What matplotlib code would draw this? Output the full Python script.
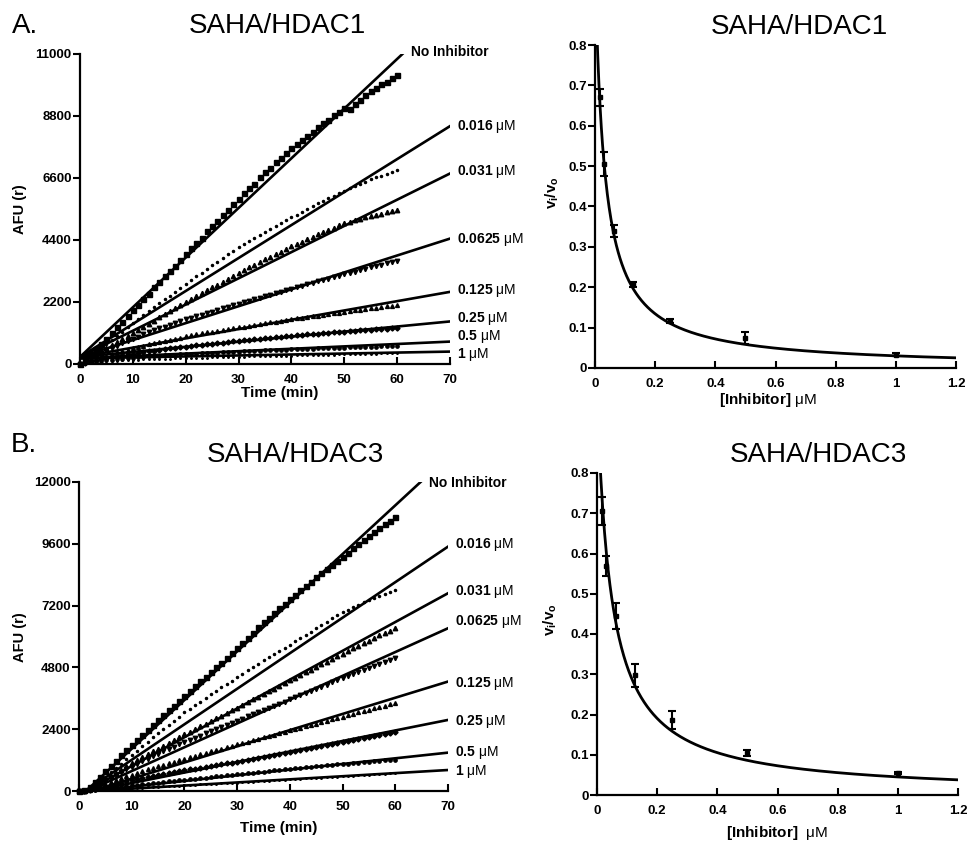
import matplotlib
matplotlib.use("Agg")
import matplotlib.pyplot as plt
import numpy as np

# ==========================================================
# Style
# ==========================================================

plt.rcParams["font.family"] = ["Liberation Sans", "DejaVu Sans"]
plt.rcParams["font.weight"] = "bold"
plt.rcParams["mathtext.fontset"] = "custom"
plt.rcParams["mathtext.rm"] = "Liberation Sans"
plt.rcParams["mathtext.bf"] = "Liberation Sans:bold"
plt.rcParams["mathtext.it"] = "Liberation Sans:italic"

W, H = 968, 843

# ==========================================================
# Data
# ==========================================================

time_min = np.arange(61)
conc_labels = ["No Inhibitor", "0.016", "0.031", "0.0625", "0.125", "0.25", "0.5", "1"]

# HDAC1 progress curves (AFU), one value per minute
hdac1_curves = [
    [0, 160, 340, 520, 710, 900, 1100, 1300, 1500, 1700, 1900, 2100, 2290, 2500, 2720, 2900,
     3110, 3300, 3480, 3700, 3900, 4120, 4300, 4480, 4710, 4900, 5080, 5290, 5460, 5670, 5850,
     6060, 6230, 6400, 6620, 6800, 6960, 7150, 7300, 7490, 7650, 7790, 7960, 8100, 8240, 8400,
     8550, 8670, 8830, 8950, 9100, 9060, 9210, 9380, 9560, 9700, 9790, 9930, 10020, 10150, 10250],
    [0, 130, 270, 410, 555, 700, 850, 1000, 1150, 1300, 1450, 1590, 1730, 1870, 2010, 2150,
     2290, 2430, 2570, 2710, 2850, 2980, 3110, 3240, 3370, 3500, 3630, 3760, 3890, 4020, 4150,
     4260, 4370, 4480, 4590, 4700, 4800, 4900, 5000, 5100, 5200, 5300, 5400, 5500, 5600, 5700,
     5790, 5880, 5970, 6060, 6150, 6230, 6310, 6390, 6470, 6550, 6620, 6680, 6750, 6810, 6880],
    [0, 110, 220, 330, 445, 560, 670, 780, 890, 995, 1100, 1210, 1320, 1430, 1540, 1650,
     1760, 1870, 1980, 2090, 2200, 2305, 2410, 2515, 2620, 2720, 2820, 2920, 3025, 3130, 3230,
     3330, 3430, 3530, 3625, 3720, 3810, 3900, 3990, 4080, 4170, 4260, 4345, 4430, 4515, 4600,
     4680, 4760, 4840, 4915, 4990, 5050, 5110, 5160, 5210, 5260, 5300, 5340, 5390, 5430, 5470],
    [0, 100, 200, 300, 390, 480, 570, 655, 740, 820, 900, 975, 1050, 1120, 1190, 1260,
     1325, 1390, 1455, 1520, 1580, 1635, 1690, 1750, 1805, 1860, 1915, 1970, 2025, 2080, 2130,
     2185, 2240, 2290, 2345, 2400, 2455, 2510, 2565, 2615, 2670, 2720, 2770, 2825, 2875, 2930,
     2980, 3030, 3080, 3130, 3180, 3230, 3280, 3330, 3380, 3430, 3475, 3520, 3570, 3615, 3660],
    [0, 70, 130, 190, 245, 300, 355, 410, 460, 510, 560, 605, 650, 695, 740, 780,
     820, 860, 900, 940, 980, 1015, 1050, 1085, 1120, 1150, 1180, 1210, 1240, 1270, 1300,
     1330, 1360, 1390, 1420, 1450, 1480, 1505, 1535, 1560, 1590, 1615, 1640, 1670, 1695, 1720,
     1745, 1770, 1800, 1825, 1850, 1875, 1900, 1920, 1945, 1970, 1995, 2020, 2045, 2065, 2090],
    [0, 45, 90, 130, 165, 200, 235, 270, 305, 340, 370, 395, 420, 450, 475, 500,
     525, 550, 575, 600, 620, 640, 660, 680, 700, 720, 740, 760, 780, 800, 820,
     840, 855, 875, 890, 910, 930, 945, 965, 980, 1000, 1015, 1030, 1050, 1065, 1080,
     1095, 1110, 1125, 1135, 1150, 1165, 1180, 1195, 1205, 1220, 1230, 1245, 1255, 1270, 1280],
    [0, 30, 60, 85, 110, 130, 150, 170, 190, 210, 230, 245, 260, 275, 290, 300,
     310, 320, 330, 340, 350, 360, 370, 380, 390, 400, 408, 416, 424, 432, 440,
     448, 456, 464, 472, 480, 487, 494, 501, 508, 515, 522, 529, 536, 543, 550,
     556, 562, 568, 574, 580, 586, 592, 598, 604, 610, 616, 622, 628, 634, 640],
    [0, 20, 40, 58, 75, 90, 103, 115, 127, 139, 150, 157, 163, 169, 175, 181,
     187, 193, 199, 205, 210, 215, 220, 225, 230, 235, 240, 245, 250, 255, 260,
     264, 268, 272, 276, 280, 284, 288, 292, 296, 300, 305, 309, 314, 318, 323,
     327, 332, 336, 341, 345, 350, 354, 359, 363, 368, 372, 377, 381, 386, 390],
]

# HDAC3 progress curves (AFU), one value per minute
hdac3_curves = [
    [0, 20, 150, 350, 560, 760, 960, 1170, 1380, 1590, 1800, 1990, 2180, 2370, 2560, 2750,
     2940, 3130, 3320, 3510, 3700, 3885, 4070, 4255, 4440, 4620, 4805, 4990, 5175, 5365, 5550,
     5750, 5950, 6150, 6350, 6550, 6730, 6910, 7090, 7270, 7450, 7620, 7790, 7960, 8130, 8300,
     8460, 8620, 8780, 8940, 9100, 9260, 9420, 9580, 9740, 9900, 10050, 10200, 10350, 10500, 10650],
    [0, 15, 110, 250, 400, 550, 720, 890, 1060, 1230, 1400, 1570, 1740, 1910, 2080, 2250,
     2410, 2570, 2730, 2890, 3050, 3190, 3330, 3470, 3610, 3750, 3885, 4020, 4150, 4285, 4420,
     4550, 4680, 4810, 4940, 5070, 5190, 5310, 5440, 5560, 5680, 5810, 5940, 6060, 6190, 6320,
     6450, 6570, 6700, 6820, 6950, 7040, 7140, 7230, 7330, 7420, 7500, 7580, 7660, 7740, 7820],
    [0, 10, 80, 200, 320, 450, 575, 700, 830, 955, 1080, 1195, 1310, 1420, 1535, 1650,
     1760, 1870, 1980, 2090, 2200, 2305, 2410, 2510, 2615, 2720, 2825, 2930, 3030, 3135, 3240,
     3345, 3450, 3560, 3665, 3770, 3875, 3980, 4090, 4195, 4300, 4405, 4510, 4610, 4715, 4820,
     4920, 5020, 5125, 5225, 5330, 5430, 5535, 5635, 5740, 5840, 5940, 6040, 6135, 6230, 6330],
    [0, 10, 70, 170, 280, 400, 515, 625, 735, 845, 950, 1050, 1150, 1250, 1350, 1450,
     1540, 1630, 1720, 1810, 1900, 1985, 2070, 2150, 2235, 2320, 2400, 2480, 2565, 2645, 2730,
     2815, 2900, 2980, 3065, 3150, 3230, 3310, 3395, 3475, 3560, 3640, 3720, 3805, 3885, 3970,
     4050, 4130, 4215, 4295, 4380, 4460, 4540, 4620, 4700, 4780, 4855, 4930, 5010, 5085, 5160],
    [0, 5, 50, 120, 200, 280, 355, 430, 500, 570, 640, 705, 770, 835, 900, 960,
     1020, 1080, 1140, 1200, 1260, 1315, 1370, 1430, 1485, 1540, 1595, 1650, 1700, 1755, 1810,
     1865, 1920, 1970, 2025, 2080, 2135, 2190, 2240, 2295, 2350, 2405, 2460, 2510, 2565, 2620,
     2675, 2730, 2780, 2835, 2890, 2945, 3000, 3050, 3105, 3160, 3210, 3260, 3315, 3365, 3420],
    [0, 5, 35, 80, 130, 180, 230, 280, 325, 375, 420, 460, 500, 540, 580, 620,
     655, 690, 730, 765, 800, 835, 870, 910, 945, 980, 1010, 1040, 1075, 1105, 1140,
     1175, 1210, 1245, 1285, 1320, 1355, 1390, 1430, 1465, 1500, 1540, 1580, 1620, 1660, 1700,
     1740, 1780, 1820, 1860, 1900, 1940, 1980, 2020, 2060, 2100, 2140, 2180, 2215, 2255, 2290],
    [0, 3, 20, 45, 72, 100, 124, 148, 172, 196, 220, 242, 264, 286, 308, 330,
     352, 374, 396, 418, 440, 461, 482, 503, 524, 545, 566, 587, 608, 629, 650,
     671, 692, 713, 734, 755, 776, 797, 818, 839, 860, 879, 898, 917, 936, 955,
     974, 993, 1012, 1031, 1050, 1067, 1084, 1101, 1118, 1135, 1152, 1169, 1186, 1203, 1220],
    [0, 2, 12, 25, 38, 50, 62, 74, 86, 98, 110, 121, 132, 143, 154, 165,
     176, 187, 198, 209, 220, 231, 242, 253, 264, 275, 286, 297, 308, 319, 330,
     342, 354, 366, 378, 390, 402, 414, 426, 438, 450, 462, 474, 486, 498, 510,
     522, 534, 546, 558, 570, 583, 596, 609, 622, 635, 648, 661, 674, 687, 700],
]

# Linear fits: value at t = 0 and value at the end time
hdac1_fit_start = [250, 250, 250, 250, 250, 250, 200, 200]
hdac1_fit_end_t = [61, 70, 70, 70, 70, 70, 70, 70]
hdac1_fit_end = [11000, 8440, 6760, 4450, 2560, 1510, 795, 440]
hdac1_label_y = [11080, 8440, 6820, 4435, 2625, 1630, 960, 320]

hdac3_fit_start = [-250, -170, -150, -150, -150, -100, -50, -30]
hdac3_fit_end_t = [64.8, 70, 70, 70, 70, 70, 70, 70]
hdac3_fit_end = [12000, 9490, 7680, 6320, 4250, 2760, 1490, 815]
hdac3_label_y = [11960, 9590, 7740, 6575, 4180, 2690, 1490, 750]

# Dose response
inhibitor_uM = [0.0156, 0.03125, 0.0625, 0.125, 0.25, 0.5, 1.0]
hdac1_ratio = [0.670, 0.505, 0.340, 0.207, 0.117, 0.075, 0.033]
hdac1_err = [0.020, 0.030, 0.015, 0.007, 0.005, 0.015, 0.003]
hdac3_ratio = [0.705, 0.570, 0.445, 0.297, 0.187, 0.105, 0.055]
hdac3_err = [0.035, 0.025, 0.033, 0.028, 0.022, 0.008, 0.003]
hdac1_ic50 = 0.031
hdac3_ic50 = 0.047

afu_ticks_1 = [0, 2200, 4400, 6600, 8800, 11000]
afu_ticks_3 = [0, 2400, 4800, 7200, 9600, 12000]
time_ticks = [0, 10, 20, 30, 40, 50, 60, 70]
ratio_ticks = [0, 0.1, 0.2, 0.3, 0.4, 0.5, 0.6, 0.7, 0.8]
ratio_labels = ["0", "0.1", "0.2", "0.3", "0.4", "0.5", "0.6", "0.7", "0.8"]
conc_ticks = [0, 0.2, 0.4, 0.6, 0.8, 1.0, 1.2]
conc_tick_labels = ["0", "0.2", "0.4", "0.6", "0.8", "1", "1.2"]

markers = ["s", ".", "^", "v", "^", "D", "o", "."]
marker_sizes = [3.6, 3.0, 3.2, 3.2, 2.8, 2.6, 2.4, 2.2]


def box(left, top, right, bottom):
    return [left / W, 1 - bottom / H, (right - left) / W, (bottom - top) / H]


def style_axes(ax):
    for side in ["top", "right"]:
        ax.spines[side].set_visible(False)
    for side in ["left", "bottom"]:
        ax.spines[side].set_linewidth(1.6)
    ax.tick_params(axis="y", direction="out", length=5, width=1.5, pad=1, labelsize=9.5)
    ax.tick_params(axis="x", direction="in", length=5, width=1.5, pad=7, labelsize=9.5)


def progress_panel(ax, curves, fit_start, fit_end_t, fit_end, label_y, yticks):
    for i, vals in enumerate(curves):
        ax.plot(time_min, vals, linestyle="none", marker=markers[i],
                markersize=marker_sizes[i], color="black", clip_on=False, zorder=2)
        ax.plot([0, fit_end_t[i]], [fit_start[i], fit_end[i]], color="black",
                linewidth=1.9, zorder=3)
        if i == 0:
            ax.text(fit_end_t[i] + 1.6, label_y[i], conc_labels[i],
                    fontsize=10, va="center", ha="left", clip_on=False)
        else:
            ax.text(fit_end_t[i] + 1.4, label_y[i],
                    r"$\mathbf{" + conc_labels[i] + r"}$ μM",
                    fontsize=10, fontweight="normal", va="center", ha="left",
                    clip_on=False)
    ax.set_xlim(0, 70)
    ax.set_ylim(0, yticks[-1])
    ax.set_xticks(time_ticks)
    ax.set_yticks(yticks)
    ax.set_yticklabels([str(v) for v in yticks])
    style_axes(ax)


def dose_panel(ax, ratio, err, ic50):
    xs = np.linspace(0.001, 1.2, 600)
    ax.plot(xs, 1 / (1 + xs / ic50), color="black", linewidth=2.0, zorder=3)
    ax.errorbar(inhibitor_uM, ratio, yerr=err, fmt="s", markersize=2.5,
                color="black", ecolor="black", elinewidth=1.5, capsize=3,
                capthick=1.5, zorder=4)
    ax.set_xlim(0, 1.2)
    ax.set_ylim(0, 0.8)
    ax.set_xticks(conc_ticks)
    ax.set_xticklabels(conc_tick_labels)
    ax.set_yticks(ratio_ticks)
    ax.set_yticklabels(ratio_labels)
    style_axes(ax)


# ==========================================================
# Figure
# ==========================================================

fig = plt.figure(figsize=(W / 100, H / 100), dpi=100)

ax_a1 = fig.add_axes(box(80, 54, 450, 364))
ax_a2 = fig.add_axes(box(595, 45, 956, 368))
ax_b1 = fig.add_axes(box(79, 482, 448, 791))
ax_b2 = fig.add_axes(box(597, 473, 958, 795))

progress_panel(ax_a1, hdac1_curves, hdac1_fit_start, hdac1_fit_end_t, hdac1_fit_end,
               hdac1_label_y, afu_ticks_1)
progress_panel(ax_b1, hdac3_curves, hdac3_fit_start, hdac3_fit_end_t, hdac3_fit_end,
               hdac3_label_y, afu_ticks_3)
dose_panel(ax_a2, hdac1_ratio, hdac1_err, hdac1_ic50)
dose_panel(ax_b2, hdac3_ratio, hdac3_err, hdac3_ic50)


def ftext(x, y, s, **kw):
    fig.text(x / W, 1 - y / H, s, ha="center", va="center", **kw)


# Titles and panel letters
ftext(25, 26, "A.", fontsize=20, fontweight="normal")
ftext(24, 445, "B.", fontsize=20, fontweight="normal")
ftext(277, 26, "SAHA/HDAC1", fontsize=20, fontweight="normal")
ftext(799, 27, "SAHA/HDAC1", fontsize=20, fontweight="normal")
ftext(295, 455, "SAHA/HDAC3", fontsize=20, fontweight="normal")
ftext(818, 455, "SAHA/HDAC3", fontsize=20, fontweight="normal")

# Axis labels
ftext(20, 209, "AFU (r)", fontsize=10.5, rotation=90)
ftext(20, 637, "AFU (r)", fontsize=10.5, rotation=90)
ftext(280, 393, "Time (min)", fontsize=11)
ftext(279, 828, "Time (min)", fontsize=11)
ftext(552, 193, r"$\mathbf{v_i/v_o}$", fontsize=11, rotation=90)
ftext(550, 620, r"$\mathbf{v_i/v_o}$", fontsize=11, rotation=90)
ftext(768, 400, r"$\mathbf{[Inhibitor]}$ μM", fontsize=11, fontweight="normal")
ftext(777, 833, r"$\mathbf{[Inhibitor]}$  μM", fontsize=11, fontweight="normal")

fig.savefig("out.png", dpi=100)
plt.close(fig)
